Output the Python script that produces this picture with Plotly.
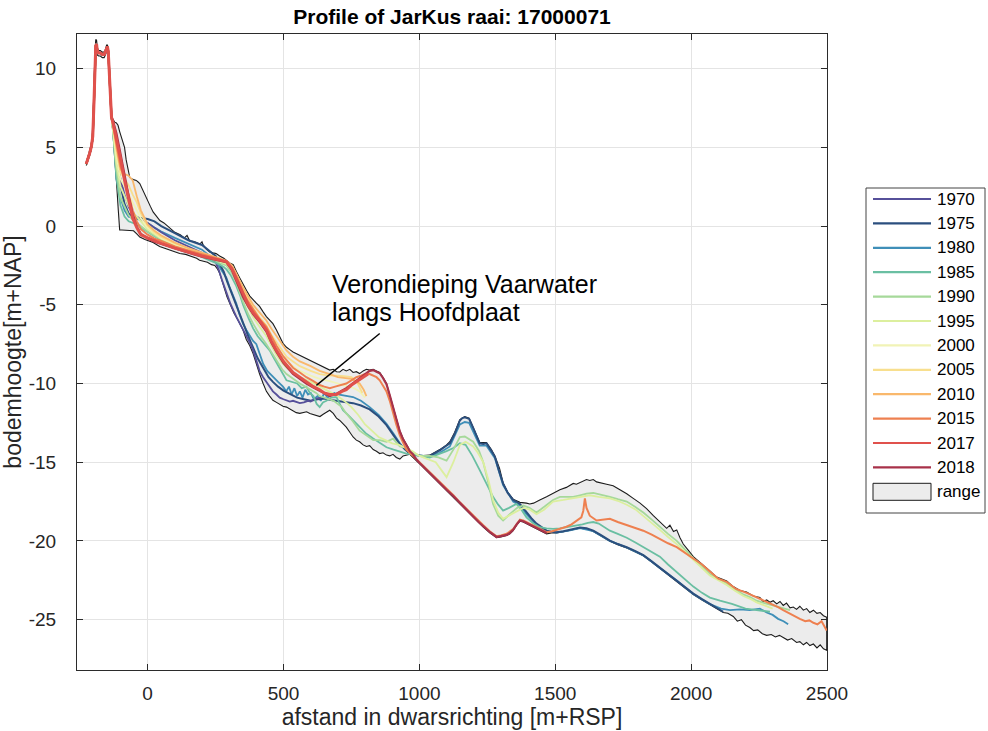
import plotly.graph_objects as go

# ---------------- data ----------------
YEARS = ["1970", "1975", "1980", "1985", "1990", "1995", "2000", "2005", "2010", "2015", "2017", "2018"]
COLORS = ["#56509a", "#2b4f7e", "#3f8fb8", "#6abfa2", "#a6d99a", "#dcef9e",
          "#f1f3b6", "#f8df8e", "#f9b86c", "#ee8050", "#e0514c", "#a8324a"]
LINE_WIDTHS = [1.8, 2.0, 1.8, 1.8, 1.8, 1.8, 1.8, 1.8, 1.8, 2.0, 3.0, 2.2]
DRAW_ORDER = ["1980", "1975", "1970", "1985", "1990", "1995", "2000", "2005", "2010", "2015", "2018", "2017"]

X_TICKS = [0, 500, 1000, 1500, 2000, 2500]
X_TICK_LABELS = ["0", "500", "1000", "1500", "2000", "2500"]
Y_TICKS = [-25, -20, -15, -10, -5, 0, 5, 10]
Y_TICK_LABELS = ["-25", "-20", "-15", "-10", "-5", "0", "5", "10"]

# dune (common to all surveys)
DUNE_X = [-226, -220, -213, -207, -202, -198, -194, -191, -188, -185, -180, -174, -167, -160, -155, -151, -148, -145, -142, -139, -136, -133]
DUNE_Y = [3.95, 4.25, 4.65, 5.05, 5.7, 7.6, 10.3, 11.45, 11.55, 11.1, 11.0, 11.0, 10.9, 10.9, 11.1, 11.35, 11.4, 11.1, 10.2, 8.8, 7.6, 6.9]

# beach (shared x positions)
BEACH_X = [-128, -115, -100, -85, -70, -55, -40, -25, 0, 25, 50, 100, 150, 200, 250]
BEACH_Y_1970 = [6.5, 4.5, 3.0, 2.0, 1.2, 0.8, 0.6, 0.4, 0.2, -0.1, -0.4, -0.9, -1.3, -1.7, -2.3]
BEACH_Y_1975 = [6.4, 4.0, 2.6, 1.4, 0.8, 0.6, 0.55, 0.5, 0.45, 0.3, 0.0, -0.45, -0.9, -1.2, -1.9]
BEACH_Y_1980 = [6.3, 3.0, 1.8, 1.0, 0.6, 0.5, 0.45, 0.4, 0.2, -0.1, -0.35, -0.75, -1.1, -1.5, -2.2]
BEACH_Y_1985 = [6.2, 3.1, 1.3, 0.6, 0.3, 0.2, 0.1, -0.1, -0.4, -0.65, -0.9, -1.3, -1.6, -1.95, -2.3]
BEACH_Y_1990 = [6.1, 3.6, 1.8, 1.2, 0.7, 0.4, 0.2, 0.0, -0.35, -0.6, -0.85, -1.25, -1.55, -1.9, -2.2]
BEACH_Y_1995 = [6.2, 4.0, 2.5, 1.9, 1.3, 0.9, 0.6, 0.3, -0.2, -0.5, -0.8, -1.2, -1.5, -1.85, -2.1]
BEACH_Y_2000 = [6.3, 4.5, 3.0, 2.5, 2.0, 1.5, 1.0, 0.5, -0.1, -0.45, -0.75, -1.15, -1.5, -1.8, -2.05]
BEACH_Y_2005 = [6.4, 4.8, 3.4, 3.0, 2.6, 2.0, 1.5, 0.8, 0.0, -0.4, -0.7, -1.1, -1.45, -1.75, -2.0]
BEACH_Y_2010 = [6.5, 5.0, 3.6, 3.3, 3.2, 2.9, 1.9, 1.0, 0.1, -0.3, -0.6, -1.05, -1.4, -1.7, -1.95]
BEACH_Y_2015 = [6.5, 5.2, 3.8, 3.0, 2.0, 1.0, 0.3, -0.2, -0.55, -0.8, -0.95, -1.3, -1.55, -1.8, -2.05]
BEACH_Y_2017 = [6.6, 5.6, 4.3, 2.9, 1.6, 0.5, -0.1, -0.55, -0.75, -0.95, -1.1, -1.4, -1.65, -1.9, -2.1]
BEACH_Y_2018 = [6.7, 5.9, 4.6, 3.2, 1.9, 0.7, -0.05, -0.5, -0.8, -1.0, -1.15, -1.45, -1.7, -1.95, -2.15]

# seaward part, per survey
X_MID_1970 = [262, 275, 290, 305, 326, 340, 351, 364, 376, 388, 400, 412, 425, 437, 449, 461, 474, 486, 500, 511,
              523, 535, 548, 560, 575, 590, 600, 612, 625, 640]
Y_MID_1970 = [-2.8, -3.5, -4.3, -4.95, -5.75, -6.2, -6.5, -7.0, -7.4, -7.9, -8.6, -9.2, -9.6, -9.9, -10.2, -10.5, -10.7, -10.9, -11.0, -11.05,
              -11.15, -11.1, -11.2, -11.25, -11.2, -11.1, -11.15, -11.0, -10.95, -10.9]

X_MID_1975 = [265, 280, 292, 305, 318, 330, 342, 355, 368, 380,
              392, 405, 418, 430, 445, 461, 480, 500, 525, 550,
              575, 600, 625, 650, 675, 700, 730, 756, 785, 817,
              850, 879, 905, 928, 948, 965, 985, 1001, 1020, 1038,
              1056, 1075, 1095, 1112, 1130, 1149, 1158, 1167, 1175, 1183,
              1200, 1222, 1235, 1247, 1262, 1278, 1292, 1308, 1325, 1345,
              1370, 1394, 1412, 1431, 1450, 1468, 1486, 1505, 1530, 1550,
              1570, 1591, 1615, 1640, 1670, 1701, 1730, 1763, 1795, 1824,
              1855, 1885, 1915, 1947, 1977, 2008, 2040, 2069, 2094, 2118]
Y_MID_1975 = [-2.4, -2.9, -3.5, -4.1, -4.7, -5.2, -5.7, -6.3, -6.9, -7.4,
              -7.9, -8.4, -8.8, -9.2, -9.6, -9.9, -10.2, -10.45, -10.7, -10.9,
              -11.0, -11.1, -11.0, -10.95, -11.05, -11.1, -11.15, -11.25, -11.4, -11.65,
              -12.1, -12.65, -13.3, -13.85, -14.2, -14.45, -14.55, -14.6, -14.62, -14.6,
              -14.45, -14.25, -14.0, -13.8, -13.2, -12.35, -12.2, -12.15, -12.2, -12.25,
              -12.9, -13.8, -13.85, -13.8, -14.2, -14.66, -15.5, -16.36, -16.95, -17.4,
              -17.65, -18.2, -18.55, -18.9, -19.15, -19.35, -19.42, -19.45, -19.38, -19.32,
              -19.22, -19.15, -19.2, -19.35, -19.65, -19.98, -20.2, -20.4, -20.65, -20.9,
              -21.3, -21.7, -22.1, -22.5, -22.95, -23.35, -23.7, -24.0, -24.25, -24.5]

X_MID_1980 = [265, 280, 290, 302, 315, 326, 338, 351, 363, 375,
              388, 400, 412, 425, 440, 461, 480, 498, 510, 520,
              530, 540, 550, 560, 570, 580, 590, 600, 612, 625,
              637, 650, 662, 675, 687, 700, 730, 756, 785, 817,
              850, 879, 905, 928, 948, 965, 985, 1001, 1038, 1075,
              1112, 1149, 1167, 1183, 1222, 1247, 1278, 1308, 1345, 1370,
              1394, 1431, 1468, 1505, 1550, 1591, 1640, 1701, 1763, 1824,
              1885, 1947, 2008, 2069, 2110, 2143, 2180, 2216, 2253, 2278,
              2300, 2320, 2340, 2357]
Y_MID_1980 = [-2.6, -3.0, -3.3, -3.9, -4.5, -4.9, -5.6, -6.2, -6.6, -6.9,
              -7.3, -7.5, -8.1, -8.75, -9.2, -9.6, -9.9, -10.2, -10.5, -10.2,
              -10.7, -10.3, -10.8, -10.5, -10.9, -10.4, -10.7, -10.6, -11.0, -10.8,
              -11.1, -10.6, -10.9, -10.7, -10.6, -10.7, -10.8, -10.86, -11.1, -11.5,
              -12.0, -12.56, -13.2, -13.8, -14.2, -14.45, -14.5, -14.57, -14.65, -14.4,
              -14.0, -12.6, -12.45, -12.5, -13.95, -13.95, -14.75, -16.45, -17.5, -17.75,
              -18.3, -19.0, -19.4, -19.47, -19.35, -19.18, -19.38, -20.0, -20.42, -20.92,
              -21.72, -22.52, -23.37, -24.02, -24.3, -24.4, -24.35, -24.4, -24.3, -24.55,
              -24.7, -24.95, -25.1, -25.3]

X_MID_1985 = [265, 280, 290, 305, 326, 340, 351, 370, 388, 405,
              425, 449, 465, 480, 495, 511, 530, 550, 567, 584,
              597, 610, 622, 633, 645, 658, 675, 695, 707, 719,
              737, 756, 780, 805, 830, 855, 879, 905, 928, 952,
              977, 1001, 1038, 1070, 1100, 1125, 1149, 1170, 1195, 1222,
              1245, 1271, 1290, 1308, 1330, 1357, 1375, 1394, 1420, 1443,
              1468, 1492, 1517, 1541, 1560, 1578, 1600, 1620, 1640, 1660,
              1680, 1701, 1730, 1763, 1795, 1824, 1855, 1885, 1915, 1947,
              1977, 2008, 2040, 2069, 2106, 2150, 2200, 2253, 2290]
Y_MID_1985 = [-2.45, -2.6, -2.75, -3.1, -3.8, -4.4, -5.0, -5.8, -6.5, -7.0,
              -7.4, -7.9, -8.4, -8.9, -9.3, -9.8, -9.9, -10.0, -10.3, -10.2,
              -10.6, -10.8, -11.3, -11.5, -11.2, -11.1, -10.9, -10.86, -11.3, -11.7,
              -12.0, -12.35, -12.8, -13.2, -13.5, -13.8, -14.05, -14.2, -14.3, -14.45,
              -14.5, -14.6, -14.7, -14.5, -14.3, -14.1, -13.8, -13.9, -14.6, -15.5,
              -16.3, -17.2, -17.7, -18.07, -17.9, -17.65, -18.0, -18.5, -18.9, -19.13,
              -19.2, -19.24, -19.2, -19.13, -19.1, -19.0, -18.95, -18.85, -18.8, -18.9,
              -19.1, -19.35, -19.55, -19.8, -20.1, -20.4, -20.7, -21.0, -21.5, -22.0,
              -22.45, -22.9, -23.3, -23.6, -23.8, -24.0, -24.3, -24.4, -24.5]

X_MID_1990 = [265, 290, 310, 326, 351, 370, 388, 412, 437, 455,
              474, 495, 511, 535, 560, 580, 600, 620, 633, 650,
              670, 685, 700, 715, 731, 755, 780, 805, 830, 854,
              879, 903, 928, 952, 977, 1001, 1038, 1070, 1100, 1125,
              1149, 1167, 1198, 1220, 1235, 1255, 1271, 1290, 1308, 1339,
              1360, 1382, 1405, 1431, 1460, 1492, 1517, 1541, 1566, 1591,
              1615, 1640, 1670, 1701, 1730, 1763, 1795, 1824, 1855, 1885,
              1915, 1947, 1977, 2008, 2040, 2069, 2100, 2131, 2160, 2192,
              2220, 2241, 2270, 2300, 2330, 2364]
Y_MID_1990 = [-2.35, -2.5, -3.0, -3.6, -4.8, -5.6, -6.2, -6.9, -7.5, -8.0,
              -8.6, -9.1, -9.4, -9.7, -10.0, -10.2, -10.4, -10.6, -10.8, -10.9,
              -11.0, -11.1, -11.3, -11.5, -11.9, -12.4, -13.0, -13.3, -13.6, -13.6,
              -13.7, -13.5, -14.0, -14.05, -14.4, -14.6, -14.6, -14.7, -14.9, -14.2,
              -13.4, -13.37, -13.7, -14.3, -15.0, -16.4, -17.65, -18.4, -18.7, -18.2,
              -17.9, -17.75, -17.9, -18.2, -17.8, -17.4, -17.2, -17.2, -17.2, -17.1,
              -17.0, -16.95, -17.05, -17.2, -17.35, -17.5, -17.85, -18.2, -18.65, -19.13,
              -19.55, -20.0, -20.55, -21.1, -21.6, -22.1, -22.4, -22.7, -23.05, -23.4,
              -23.6, -23.8, -23.95, -24.1, -24.25, -24.4]

X_MID_1995 = [265, 290, 310, 326, 351, 370, 388, 412, 437, 455,
              474, 495, 511, 535, 560, 600, 633, 670, 700, 730,
              750, 775, 800, 825, 850, 875, 900, 925, 950, 975,
              1000, 1030, 1060, 1085, 1100, 1125, 1149, 1170, 1198, 1215,
              1235, 1255, 1271, 1290, 1308, 1339, 1360, 1382, 1405, 1431,
              1460, 1492, 1530, 1566, 1600, 1627, 1660, 1701, 1730, 1763,
              1795, 1824, 1855, 1885, 1915, 1947, 1977, 2008, 2040, 2069,
              2100, 2131, 2160, 2192, 2220, 2241, 2270, 2300]
Y_MID_1995 = [-2.25, -2.4, -2.8, -3.4, -4.5, -5.2, -5.8, -6.4, -7.0, -7.6,
              -8.2, -8.7, -9.0, -9.3, -9.6, -9.9, -10.2, -10.5, -10.8, -11.2,
              -11.5, -12.0, -12.6, -13.0, -13.4, -13.6, -13.8, -13.9, -14.1, -14.3,
              -14.6, -14.8, -15.0, -15.6, -15.95, -15.0, -13.9, -13.7, -14.0, -14.4,
              -15.0, -16.2, -17.4, -18.2, -18.6, -18.3, -18.1, -17.9, -18.0, -18.3,
              -18.0, -17.5, -17.4, -17.3, -17.2, -17.1, -17.2, -17.3, -17.45, -17.7,
              -18.0, -18.4, -18.85, -19.3, -19.75, -20.2, -20.7, -21.2, -21.7, -22.2,
              -22.5, -22.8, -23.15, -23.5, -23.7, -23.9, -24.1, -24.3]

X_MID_2000 = [265, 290, 310, 326, 351, 370, 388, 412, 437, 455, 474, 495, 511, 535, 560, 600, 633, 670, 700, 730, 760, 780, 800]
Y_MID_2000 = [-2.15, -2.3, -2.7, -3.2, -4.2, -4.8, -5.4, -6.0, -6.6, -7.2, -7.7, -8.2, -8.6, -8.9, -9.2, -9.5, -9.7, -9.85, -10.0, -10.15, -10.3, -10.5, -10.9]
X_MID_2005 = [265, 290, 310, 326, 351, 370, 388, 412, 437, 455, 474, 495, 511, 535, 560, 600, 633, 670, 700, 730, 750, 770, 790]
Y_MID_2005 = [-2.1, -2.25, -2.6, -3.1, -4.0, -4.6, -5.2, -5.8, -6.3, -6.9, -7.4, -7.9, -8.3, -8.6, -8.9, -9.2, -9.4, -9.5, -9.5, -9.55, -9.6, -9.9, -10.6]
X_MID_2010 = [265, 290, 310, 326, 351, 370, 388, 412, 437, 455, 474, 495, 511, 535, 560, 600, 633, 670, 700, 750, 780, 795, 805]
Y_MID_2010 = [-2.05, -2.2, -2.5, -3.0, -3.9, -4.5, -5.0, -5.5, -6.0, -6.5, -7.0, -7.5, -7.9, -8.3, -8.6, -8.9, -9.2, -9.4, -9.6, -9.7, -10.0, -10.4, -10.8]

X_MID_2015 = [265, 290, 310, 326, 351, 370, 388, 412, 437, 455,
              474, 500, 535, 560, 584, 610, 633, 650, 670, 690,
              710, 731, 750, 768, 785, 800, 817, 830, 842, 854,
              866, 879, 891, 903, 915, 928, 940, 952, 977, 1001,
              1038, 1070, 1100, 1125, 1149, 1175, 1198, 1218, 1235, 1260,
              1284, 1300, 1321, 1345, 1358, 1370, 1382, 1394, 1412, 1431,
              1450, 1468, 1486, 1505, 1520, 1541, 1560, 1578, 1596, 1603,
              1609, 1615, 1627, 1652, 1675, 1701, 1730, 1763, 1795, 1824,
              1855, 1885, 1915, 1947, 1977, 2008, 2040, 2069, 2100, 2131,
              2165, 2204, 2230, 2253, 2280, 2300, 2320, 2339, 2360, 2380,
              2400, 2420, 2435, 2450, 2465, 2480, 2499]
Y_MID_2015 = [-2.1, -2.3, -2.7, -3.2, -4.2, -4.8, -5.3, -5.9, -6.4, -7.0,
              -7.6, -8.3, -9.0, -9.3, -9.6, -9.85, -10.1, -10.2, -10.3, -10.2,
              -10.1, -10.0, -9.8, -9.6, -9.5, -9.4, -9.4, -9.5, -9.6, -9.8,
              -10.1, -10.5, -11.1, -11.9, -12.6, -13.3, -13.8, -14.2, -14.6, -15.0,
              -15.65, -16.2, -16.7, -17.1, -17.55, -18.0, -18.4, -18.75, -19.0, -19.4,
              -19.7, -19.65, -19.55, -19.25, -18.9, -18.65, -18.7, -18.8, -18.95, -19.1,
              -19.3, -19.45, -19.4, -19.3, -19.2, -19.1, -18.95, -18.7, -18.5, -18.1,
              -17.3, -17.9, -18.4, -18.7, -18.65, -18.6, -18.8, -19.0, -19.15, -19.35,
              -19.6, -19.9, -20.15, -20.4, -20.75, -21.1, -21.5, -21.95, -22.4, -22.6,
              -23.05, -23.3, -23.5, -23.65, -23.85, -24.0, -24.2, -24.4, -24.6, -24.75,
              -24.95, -25.1, -25.05, -25.2, -25.3, -25.1, -25.7]

X_MID_2017 = [265, 290, 310, 326, 351, 370, 388, 412, 437, 455, 474, 500, 535, 560, 584, 610, 633, 650, 670, 695,
              715, 731, 750, 768, 793, 811]
Y_MID_2017 = [-2.15, -2.25, -2.7, -3.3, -4.3, -5.0, -5.5, -6.0, -6.6, -7.3, -7.9, -8.6, -9.3, -9.6, -9.9, -10.2, -10.4, -10.6, -10.7, -10.7,
              -10.5, -10.4, -10.1, -9.9, -9.6, -9.4]

X_MID_2018 = [265, 290, 310, 326, 351, 370, 388, 412, 437, 455,
              474, 500, 535, 560, 584, 610, 633, 650, 670, 695,
              715, 731, 750, 768, 793, 817, 830, 842, 854, 866,
              879, 891, 903, 915, 928, 940, 952, 965, 977, 990,
              1001, 1038, 1070, 1100, 1125, 1149, 1175, 1198, 1218, 1235,
              1260, 1284, 1300, 1321, 1333, 1345, 1358, 1370, 1382, 1394,
              1412, 1431, 1450, 1468]
Y_MID_2018 = [-2.2, -2.3, -2.8, -3.45, -4.5, -5.1, -5.6, -6.1, -6.7, -7.4,
              -8.0, -8.7, -9.4, -9.7, -10.0, -10.25, -10.45, -10.65, -10.8, -10.65,
              -10.45, -10.3, -10.05, -9.8, -9.5, -9.2, -9.15, -9.25, -9.35, -9.65,
              -10.05, -10.75, -11.55, -12.25, -13.05, -13.55, -13.95, -14.3, -14.5, -14.85,
              -15.05, -15.7, -16.25, -16.75, -17.15, -17.6, -18.05, -18.45, -18.8, -19.08,
              -19.45, -19.75, -19.7, -19.62, -19.5, -19.3, -18.95, -18.7, -18.75, -18.85,
              -19.0, -19.15, -19.35, -19.5]

# range envelope (all yearly surveys)
RANGE_DUNE_UP = [4.05, 4.4, 4.8, 5.25, 6.0, 8.3, 11.0, 11.85, 11.8, 11.3, 11.15, 11.15, 11.05, 11.05, 11.25, 11.5, 11.5, 11.3, 10.6, 9.3, 8.0, 7.05]
RANGE_DUNE_LO = [3.85, 4.1, 4.5, 4.9, 5.4, 7.0, 9.8, 11.0, 11.1, 10.85, 10.8, 10.8, 10.7, 10.7, 10.9, 11.15, 11.2, 10.85, 9.8, 8.3, 7.2, 6.75]

RANGE_UP_X = [-128, -121, -115, -109, -103, -97, -91, -85, -79, -73,
              -66, -60, -52, -42, -35, -29, -20, -11, 0, 10,
              20, 32, 45, 60, 81, 100, 120, 135, 145, 155,
              167, 180, 192, 200, 204, 215, 228, 240, 252, 265,
              280, 290, 302, 315, 327, 339, 352, 364, 376, 388,
              400, 412, 425, 437, 449, 461, 474, 486, 498, 511,
              523, 535, 547, 560, 572, 584, 596, 609, 621, 633,
              646, 658, 670, 683, 695, 707, 719, 731, 744, 756,
              768, 780, 793, 805, 817, 830, 842, 854, 866, 879,
              891, 903, 915, 928, 940, 952, 965, 977, 990, 1001,
              1038, 1075, 1100, 1112, 1130, 1149, 1167, 1183, 1200, 1222,
              1247, 1265, 1278, 1295, 1308, 1325, 1345, 1370, 1394, 1406,
              1420, 1443, 1468, 1492, 1517, 1541, 1566, 1578, 1591, 1603,
              1615, 1627, 1640, 1652, 1664, 1689, 1713, 1738, 1763, 1787,
              1812, 1836, 1861, 1885, 1910, 1922, 1935, 1947, 1959, 1971,
              1990, 2008, 2030, 2050, 2069, 2094, 2110, 2131, 2155, 2180,
              2204, 2229, 2253, 2265, 2278, 2290, 2302, 2315, 2327, 2339,
              2351, 2364, 2376, 2388, 2400, 2413, 2425, 2437, 2450, 2463,
              2475, 2487, 2499]
RANGE_UP_Y = [6.8, 6.6, 6.55, 6.4, 6.0, 5.7, 5.3, 5.0, 4.2, 3.6,
              3.1, 3.0, 2.95, 2.9, 2.8, 2.7, 2.4, 2.05, 1.6, 1.25,
              0.9, 0.6, 0.35, 0.2, -0.1, -0.4, -0.55, -0.75, -0.6, -0.95,
              -0.97, -1.05, -1.15, -1.0, -1.2, -1.45, -1.64, -1.7, -1.75, -1.9,
              -2.05, -2.15, -2.35, -2.45, -2.9, -3.3, -3.75, -4.1, -4.45, -4.7,
              -4.9, -5.1, -5.45, -5.75, -6.0, -6.2, -6.6, -7.0, -7.45, -7.7,
              -7.85, -8.0, -8.1, -8.2, -8.35, -8.45, -8.5, -8.65, -8.75, -8.85,
              -8.95, -9.05, -9.15, -9.1, -9.25, -9.27, -9.1, -9.2, -9.1, -9.3,
              -9.25, -9.37, -9.2, -9.1, -9.15, -9.1, -9.2, -9.3, -9.6, -10.0,
              -10.7, -11.5, -12.2, -13.0, -13.5, -13.9, -14.25, -14.45, -14.55, -14.6,
              -14.55, -14.2, -13.9, -13.7, -13.1, -12.3, -12.1, -12.2, -12.9, -13.75,
              -13.75, -14.2, -14.6, -15.4, -16.3, -16.9, -17.35, -17.55, -17.6, -17.65,
              -17.6, -17.4, -17.2, -17.0, -16.75, -16.6, -16.35, -16.4, -16.25, -16.2,
              -16.1, -16.16, -16.1, -16.25, -16.27, -16.4, -16.5, -16.75, -17.0, -17.3,
              -17.6, -17.95, -18.4, -18.8, -19.2, -19.0, -19.4, -19.3, -19.8, -20.2,
              -20.6, -21.0, -21.3, -21.6, -21.9, -22.3, -22.4, -22.55, -22.9, -23.15,
              -23.25, -23.5, -23.6, -23.85, -23.75, -23.9, -23.8, -24.0, -23.85, -24.1,
              -23.95, -24.25, -24.2, -24.35, -24.15, -24.4, -24.3, -24.55, -24.4, -24.6,
              -24.55, -24.75, -24.85]

RANGE_LO_X = [-128, -122, -115, -108, -103, -95, -85, -78, -65, -52,
              -40, -29, -10, 0, 20, 44, 70, 95, 118, 140,
              155, 167, 180, 191, 205, 220, 235, 247, 256, 265,
              274, 283, 292, 302, 317, 332, 342, 351, 363, 376,
              388, 400, 412, 425, 437, 449, 461, 474, 486, 498,
              511, 523, 535, 547, 560, 572, 585, 597, 609, 621,
              634, 646, 658, 670, 683, 695, 707, 719, 731, 744,
              756, 768, 780, 793, 805, 817, 830, 842, 854, 866,
              879, 891, 903, 915, 928, 940, 952, 965, 977, 990,
              1001, 1038, 1070, 1100, 1125, 1149, 1175, 1198, 1218, 1235,
              1260, 1284, 1300, 1321, 1333, 1345, 1358, 1370, 1382, 1394,
              1412, 1431, 1450, 1468, 1486, 1505, 1530, 1550, 1570, 1591,
              1615, 1640, 1670, 1701, 1730, 1763, 1795, 1824, 1855, 1885,
              1915, 1947, 1977, 2008, 2040, 2069, 2094, 2118, 2135, 2155,
              2170, 2185, 2200, 2216, 2230, 2245, 2262, 2278, 2295, 2310,
              2325, 2339, 2355, 2370, 2388, 2400, 2413, 2425, 2437, 2450,
              2463, 2475, 2487, 2499]
RANGE_LO_Y = [6.0, 4.8, 2.9, 1.0, -0.25, -0.25, -0.26, -0.26, -0.28, -0.3,
              -0.5, -0.7, -0.85, -0.9, -1.05, -1.3, -1.45, -1.6, -1.74, -1.8,
              -1.9, -1.95, -2.05, -2.17, -2.25, -2.3, -2.45, -2.5, -2.7, -3.0,
              -3.5, -4.07, -4.5, -4.9, -5.5, -5.97, -6.3, -6.6, -7.2, -7.6,
              -8.1, -8.8, -9.4, -10.0, -10.5, -10.8, -11.07, -11.2, -11.3, -11.45,
              -11.5, -11.6, -11.75, -11.85, -11.9, -11.85, -11.8, -11.9, -11.95, -12.0,
              -12.1, -11.95, -11.8, -11.7, -11.9, -12.2, -12.35, -12.55, -12.77, -13.1,
              -13.4, -13.6, -13.7, -13.9, -14.0, -13.95, -14.2, -14.3, -14.45, -14.4,
              -14.55, -14.6, -14.5, -14.7, -14.8, -14.6, -14.55, -14.5, -14.7, -14.9,
              -15.1, -15.74, -16.3, -16.8, -17.2, -17.65, -18.1, -18.5, -18.85, -19.13,
              -19.5, -19.8, -19.75, -19.66, -19.55, -19.35, -19.0, -18.75, -18.8, -18.9,
              -19.05, -19.2, -19.4, -19.55, -19.5, -19.5, -19.42, -19.36, -19.27, -19.2,
              -19.25, -19.4, -19.7, -20.03, -20.25, -20.45, -20.7, -20.95, -21.35, -21.75,
              -22.15, -22.55, -23.0, -23.4, -23.75, -24.05, -24.3, -24.55, -24.6, -24.8,
              -25.1, -25.0, -25.35, -25.5, -25.7, -25.65, -25.9, -26.0, -25.95, -26.1,
              -26.0, -26.15, -26.3, -26.2, -26.45, -26.4, -26.6, -26.45, -26.65, -26.55,
              -26.8, -26.6, -26.85, -26.95]

TITLE = "Profile of JarKus raai: 17000071"
X_LABEL = "afstand in dwarsrichting [m+RSP]"
Y_LABEL = "bodemhoogte[m+NAP]"
NOTE_LINES = ["Verondieping Vaarwater", "langs Hoofdplaat"]
NOTE_X = 670
NOTE_Y = [-3.7, -5.48]
NOTE_LINE = ([621, 854], [-10.12, -6.83])
RANGE_LABEL = "range"

# ---------------- build ----------------
BEACH = {"1970": BEACH_Y_1970, "1975": BEACH_Y_1975, "1980": BEACH_Y_1980, "1985": BEACH_Y_1985,
         "1990": BEACH_Y_1990, "1995": BEACH_Y_1995, "2000": BEACH_Y_2000, "2005": BEACH_Y_2005,
         "2010": BEACH_Y_2010, "2015": BEACH_Y_2015, "2017": BEACH_Y_2017, "2018": BEACH_Y_2018}
MID = {"1970": (X_MID_1970, Y_MID_1970), "1975": (X_MID_1975, Y_MID_1975), "1980": (X_MID_1980, Y_MID_1980),
       "1985": (X_MID_1985, Y_MID_1985), "1990": (X_MID_1990, Y_MID_1990), "1995": (X_MID_1995, Y_MID_1995),
       "2000": (X_MID_2000, Y_MID_2000), "2005": (X_MID_2005, Y_MID_2005), "2010": (X_MID_2010, Y_MID_2010),
       "2015": (X_MID_2015, Y_MID_2015), "2017": (X_MID_2017, Y_MID_2017), "2018": (X_MID_2018, Y_MID_2018)}

fig = go.Figure()

env_lo_x = DUNE_X + RANGE_LO_X
env_lo_y = RANGE_DUNE_LO + RANGE_LO_Y
env_up_x = DUNE_X + RANGE_UP_X
env_up_y = RANGE_DUNE_UP + RANGE_UP_Y
fig.add_trace(go.Scatter(
    x=env_lo_x + env_up_x[::-1], y=env_lo_y + env_up_y[::-1],
    mode="lines", fill="toself", fillcolor="rgb(236,236,236)",
    line=dict(color="#1c1c1c", width=1.1), name=RANGE_LABEL, hoverinfo="skip"))

for yr in DRAW_ORDER:
    i = YEARS.index(yr)
    mx, my = MID[yr]
    xs = DUNE_X + BEACH_X + mx
    ys = DUNE_Y + BEACH[yr] + my
    fig.add_trace(go.Scatter(x=xs, y=ys, mode="lines", name=yr,
                             line=dict(color=COLORS[i], width=LINE_WIDTHS[i])))

# annotation pointer line
fig.add_trace(go.Scatter(x=NOTE_LINE[0], y=NOTE_LINE[1], mode="lines",
                         line=dict(color="black", width=1.4), hoverinfo="skip"))

FONT = "Liberation Sans, Arial, Helvetica, sans-serif"
annotations = []
for txt, ny in zip(NOTE_LINES, NOTE_Y):
    annotations.append(dict(x=NOTE_X, y=ny, xref="x", yref="y", text=txt,
                            showarrow=False, xanchor="left", yanchor="middle", align="left",
                            font=dict(size=25, color="black", family=FONT)))
shapes = []

# legend (drawn manually, MATLAB style)
PL, PR, PT, PB = 77, 827, 34, 670
def px_x(p):
    return (p - PL) / (PR - PL)
def px_y(p):
    return (PB - p) / (PB - PT)

shapes.append(dict(type="rect", xref="paper", yref="paper",
                   x0=px_x(866), x1=px_x(985), y0=px_y(513), y1=px_y(188),
                   line=dict(color="#444444", width=1), fillcolor="white", layer="above"))
for k, yr in enumerate(YEARS):
    yc = 199 + k * 24.4
    shapes.append(dict(type="line", xref="paper", yref="paper",
                       x0=px_x(873), x1=px_x(931), y0=px_y(yc), y1=px_y(yc),
                       line=dict(color=COLORS[k], width=2.2), layer="above"))
    annotations.append(dict(x=px_x(935), y=px_y(yc), xref="paper", yref="paper", text=yr,
                            showarrow=False, xanchor="left", yanchor="middle",
                            font=dict(size=17, color="black", family=FONT)))
yc = 199 + 12 * 24.4
shapes.append(dict(type="rect", xref="paper", yref="paper",
                   x0=px_x(873), x1=px_x(931), y0=px_y(yc + 8.5), y1=px_y(yc - 8.5),
                   line=dict(color="#1c1c1c", width=1), fillcolor="rgb(236,236,236)", layer="above"))
annotations.append(dict(x=px_x(935), y=px_y(yc), xref="paper", yref="paper", text=RANGE_LABEL,
                        showarrow=False, xanchor="left", yanchor="middle",
                        font=dict(size=17, color="black", family=FONT)))

axis_common = dict(showgrid=True, gridcolor="#e4e4e4", gridwidth=1, zeroline=False,
                   showline=True, linecolor="#2b2b2b", linewidth=1.2, mirror="ticks",
                   ticks="inside", ticklen=6, tickwidth=1, tickcolor="#2b2b2b",
                   tickfont=dict(size=19, color="#262626", family=FONT), automargin=False)

fig.update_layout(
    width=988, height=731,
    margin=dict(l=PL, r=988 - PR, t=PT, b=731 - PB),
    paper_bgcolor="white", plot_bgcolor="white",
    font=dict(family=FONT, color="#262626"),
    showlegend=False,
    title=dict(text="<b>" + TITLE + "</b>", x=0.5, xref="paper", xanchor="center",
               y=1 - 17 / 731, yref="container", yanchor="middle",
               font=dict(size=21, color="black", family=FONT)),
    xaxis=dict(range=[-260, 2500], tickvals=X_TICKS, ticktext=X_TICK_LABELS,
               title=dict(text=X_LABEL, font=dict(size=23, color="#262626", family=FONT), standoff=1),
               ticklabelstandoff=6, **axis_common),
    yaxis=dict(range=[-28.2, 12.2], tickvals=Y_TICKS, ticktext=Y_TICK_LABELS,
               title=dict(text=Y_LABEL, font=dict(size=23, color="#262626", family=FONT), standoff=0),
               ticklabelstandoff=16, **axis_common),
    annotations=annotations, shapes=shapes,
)

fig.write_html("out.html")
